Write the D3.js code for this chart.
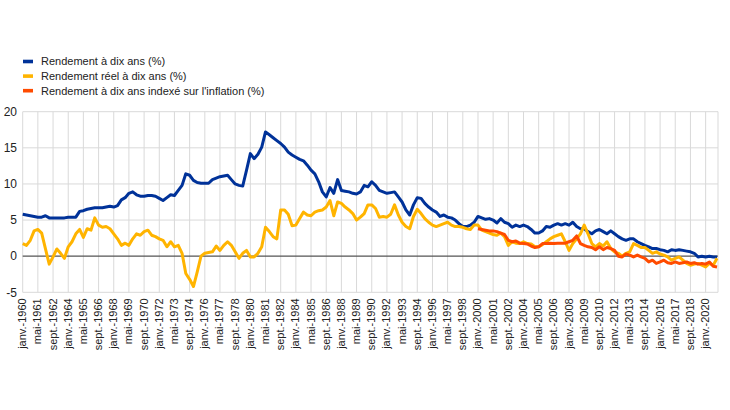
<!DOCTYPE html>
<html><head><meta charset="utf-8">
<script src="https://cdn.jsdelivr.net/npm/d3@7"></script>
<style>
body{margin:0;background:#fff;}
text{font-family:Arial,"Liberation Sans",sans-serif;fill:#222;}
</style></head>
<body><svg id="c" width="730" height="410"></svg>
<script>
// ---- data (sampled every 4 months from janv. 1960) ----
const seriesNames = ["Rendement à dix ans (%)", "Rendement réel à dix ans (%)", "Rendement à dix ans indexé sur l'inflation (%)"];
const seriesColors = ["#003299", "#FFB400", "#FF4B00"];
const startYear = 1960;
const stepMonths = 4;
const nominal = [
 5.8,5.7,5.6,5.5, 5.4,5.4,5.6,5.3, 5.3,5.3,5.3,5.3, 5.4,5.4,5.4,6.2,
 6.3,6.5,6.6,6.7, 6.7,6.7,6.8,6.9, 6.8,7.0,7.8,8.1, 8.7,8.9,8.5,8.3,
 8.3,8.4,8.4,8.3, 8.0,7.7,8.1,8.5, 8.4,9.1,9.8,11.4, 11.2,10.5,10.2,10.1,
 10.1,10.1,10.6,10.8, 11.0,11.1,11.2,10.6, 10.0,9.8,9.7,11.9, 14.2,13.5,14.1,15.1,
 17.2,16.8,16.4,16.0, 15.6,15.1,14.4,14.0, 13.7,13.4,13.2,12.6, 11.9,11.4,10.3,8.9,
 8.2,9.5,8.7,10.6, 9.1,9.0,8.9,8.7, 8.6,8.9,9.8,9.6, 10.3,9.8,9.1,8.9,
 8.7,8.8,8.9,8.2, 7.5,6.4,5.7,7.1, 8.1,8.0,7.3,6.8, 6.4,6.1,5.5,5.7,
 5.4,5.3,5.0,4.5, 4.1,4.1,4.3,4.7, 5.5,5.3,5.1,5.2, 5.0,4.6,5.2,4.7,
 4.5,4.0,4.3,4.1, 4.3,4.1,3.7,3.2, 3.2,3.5,4.1,4.0, 4.3,4.5,4.3,4.5,
 4.3,4.7,4.1,3.8, 3.8,3.4,3.1,3.5, 3.7,3.4,3.1,3.5, 3.1,2.7,2.4,2.2,
 2.4,2.4,2.0,1.75, 1.5,1.3,1.06,1.06, 0.9,0.8,0.6,0.9, 0.8,0.9,0.8,0.7,
 0.6,0.4,-0.1,0.0, -0.1,0.0,-0.1,-0.1
];
const real = [
 1.75,1.5,2.2,3.5, 3.7,3.2,1.0,-1.1, -0.1,1.0,0.4,-0.3, 1.3,2.0,3.1,3.7,
 2.6,3.8,3.6,5.3, 4.3,4.0,4.1,3.8, 3.1,2.4,1.5,1.8, 1.5,2.4,3.1,2.9,
 3.4,3.6,2.9,2.7, 2.4,2.2,1.3,2.0, 1.3,1.5,0.4,-2.4, -3.2,-4.2,-2.2,0.0,
 0.4,0.5,0.6,1.4, 0.8,1.5,2.0,1.5, 0.6,-0.3,0.4,0.8, -0.1,-0.1,0.4,1.3,
 4.0,3.4,2.7,2.4, 6.4,6.4,5.8,4.2, 4.3,5.2,6.1,5.7, 5.6,6.1,6.3,6.4,
 6.8,7.7,5.6,7.5, 7.3,6.8,6.4,5.9, 5.0,5.4,5.9,7.1, 7.1,6.6,5.4,5.5,
 5.4,5.8,7.1,5.7, 4.7,4.1,3.8,5.5, 6.5,5.9,5.2,4.7, 4.3,4.1,4.3,4.5,
 4.7,4.3,4.1,4.1, 4.0,3.8,3.7,4.3, 4.3,3.6,3.4,3.2, 3.0,2.9,3.2,2.7,
 1.5,2.0,1.8,1.75, 2.0,1.75,1.7,1.3, 1.3,1.6,2.0,2.4, 2.7,2.9,3.1,2.0,
 0.8,1.75,2.4,3.1, 4.3,3.1,1.75,1.3, 1.75,1.4,2.0,1.06, 0.6,0.4,0.0,0.4,
 0.6,1.75,1.5,1.2, 1.2,0.8,0.4,0.6, 0.3,0.15,-0.1,-0.55, -0.3,-0.1,-0.55,-1.0,
 -1.25,-1.1,-1.0,-1.25, -1.5,-1.0,-1.25,-0.3
];
const indexedStartYear = 2000;
const indexed = [
 3.8,3.7,3.6,3.5, 3.5,3.4,3.2,3.0, 2.2,2.0,2.1,1.8, 1.75,1.7,1.4,1.2,
 1.3,1.75,1.75,1.8, 1.75,1.8,1.8,1.8, 2.0,2.2,2.8,1.75, 1.5,1.3,1.2,0.9,
 1.3,0.9,1.2,1.06, 0.8,0.0,-0.1,0.3, 0.15,-0.1,0.15,-0.1, -0.3,-0.8,-0.55,-1.0,
 -0.8,-0.55,-0.9,-1.0, -0.8,-1.0,-0.9,-0.8, -1.0,-0.9,-1.1,-1.0, -1.1,-0.8,-1.4,-1.5
];
const tickLabels = ["janv.-1960","mai-1961","sept.-1962","janv.-1964","mai-1965","sept.-1966","janv.-1968","mai-1969","sept.-1970","janv.-1972","mai-1973","sept.-1974","janv.-1976","mai-1977","sept.-1978","janv.-1980","mai-1981","sept.-1982","janv.-1984","mai-1985","sept.-1986","janv.-1988","mai-1989","sept.-1990","janv.-1992","mai-1993","sept.-1994","janv.-1996","mai-1997","sept.-1998","janv.-2000","mai-2001","sept.-2002","janv.-2004","mai-2005","sept.-2006","janv.-2008","mai-2009","sept.-2010","janv.-2012","mai-2013","sept.-2014","janv.-2016","mai-2017","sept.-2018","janv.-2020"];
const yTicks = [-5, 0, 5, 10, 15, 20];

// ---- build ----
(function(){
const svg = d3.select("#c");
const pL = 22.7, pR = 718, pT = 111.7, pB = 292.3;
const x = d3.scaleTime().domain([new Date(1960,0,1), new Date(2021,1,1)]).range([pL, pR]);
const y = d3.scaleLinear().domain([-5, 20]).range([pB, pT]);

const toPts = (arr, y0) => arr.map((v,i) => ({d: new Date(y0, i*stepMonths, 1), v}));
const data = [toPts(nominal, startYear), toPts(real, startYear), toPts(indexed, indexedStartYear)];
const tickDates = tickLabels.map((_,i) => new Date(1960, i*16, 1));

const grid = svg.append("g");
grid.selectAll("line.h").data(yTicks.filter(t=>t!==0)).join("line")
  .attr("x1", pL).attr("x2", pR).attr("y1", d=>y(d)).attr("y2", d=>y(d))
  .attr("stroke", "#d9d9d9").attr("stroke-width", 1);
grid.selectAll("line.v").data(tickDates.concat([x.domain()[1]])).join("line")
  .attr("x1", d=>x(d)).attr("x2", d=>x(d)).attr("y1", pT).attr("y2", pB)
  .attr("stroke", "#d9d9d9").attr("stroke-width", 1);

svg.append("g").selectAll("text").data(yTicks).join("text")
  .attr("x", 17).attr("y", d=>y(d)).attr("dy", "0.35em").attr("text-anchor", "end")
  .attr("font-size", 12).text(d=>d);

svg.append("line").attr("x1", pL).attr("x2", pR).attr("y1", y(0)).attr("y2", y(0))
  .attr("stroke", "#555").attr("stroke-width", 1.3);

svg.append("g").selectAll("text").data(tickDates).join("text")
  .attr("transform", (d)=>`translate(${x(d)+3.5},${pB+6}) rotate(-90)`)
  .attr("text-anchor", "end").attr("font-size", 11)
  .text((d,i)=>tickLabels[i]);

const line = d3.line().x(p=>x(p.d)).y(p=>y(p.v)).curve(d3.curveLinear);
svg.append("g").selectAll("path").data(data).join("path")
  .attr("d", line).attr("fill", "none")
  .attr("stroke", (d,i)=>seriesColors[i]).attr("stroke-width", 3)
  .attr("stroke-linejoin", "round");

const lg = svg.append("g").selectAll("g").data(seriesNames).join("g")
  .attr("transform", (d,i)=>`translate(23,${61.5 + i*14.6})`);
lg.append("rect").attr("x", 0).attr("y", -1.8).attr("width", 10).attr("height", 3.6)
  .attr("fill", (d,i)=>seriesColors[i]);
lg.append("text").attr("x", 18).attr("dy", "0.35em").attr("font-size", 11).text(d=>d);
})();
</script></body></html>
